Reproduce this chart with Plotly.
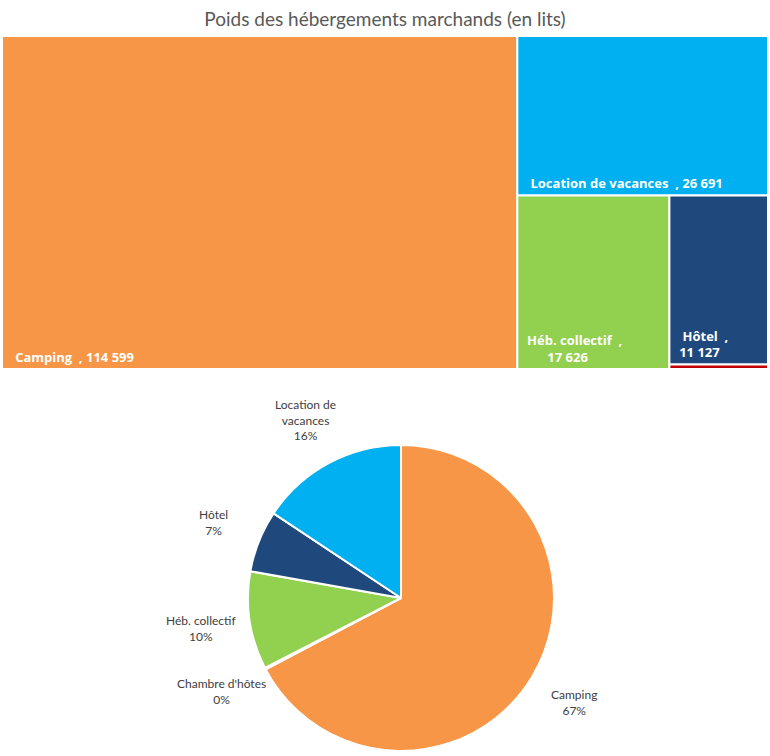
import math
import plotly.graph_objects as go

# --- data ---
categories = ["Camping", "Location de vacances", "Héb. collectif", "Hôtel", "Chambre d'hôtes"]
beds = [114599, 26691, 17626, 11127, 300]
colors = ["#F79646", "#00B0F0", "#92D050", "#1F497D", "#C00000"]

# pie order (clockwise from 12 o'clock)
pie_order = ["Camping", "Chambre d'hôtes", "Héb. collectif", "Hôtel", "Location de vacances"]

NB = "\u00a0"


def fmt(v):
    return f"{v:,}".replace(",", NB)


# treemap labels, some wrapped like in the original
tm_text = []
for c, v in zip(categories, beds):
    if c == "Chambre d'hôtes":
        tm_text.append("")
    elif c == "Héb. collectif":
        tm_text.append(f"<b>{NB*2}{c}{NB*2},<br>{NB*8}{fmt(v)}</b>")
    elif c == "Hôtel":
        tm_text.append(f"<b>{NB*3}{c}{NB*2},<br>{NB*2}{fmt(v)}</b>")
    else:
        tm_text.append(f"<b>{NB*3}{c}{NB*2}, {fmt(v)}</b>")

W, H = 770, 756
fig = go.Figure()

fig.add_trace(go.Treemap(
    labels=categories,
    parents=[""] * len(categories),
    values=beds,
    text=tm_text,
    texttemplate="%{text}",
    textposition="bottom left",
    textfont=dict(family="Open Sans, sans-serif", size=13, color="white"),
    marker=dict(colors=colors, line=dict(color="white", width=2),
                pad=dict(t=0, l=0, r=0, b=0)),
    tiling=dict(packing="squarify", pad=0),
    pathbar=dict(visible=False),
    hoverinfo="label+value",
    sort=True,
    domain=dict(x=[2 / W, 768 / W], y=[1 - 369 / H, 1 - 36 / H]),
))

# --- pie ---
idx = [categories.index(c) for c in pie_order]
pie_vals = [beds[i] for i in idx]
pie_cols = [colors[i] for i in idx]
pie_disp = [c.replace("Location de vacances", "Location de<br>vacances") for c in pie_order]

px0, px1, py0, py1 = 248, 554, 445, 751  # pie box in pixels
fig.add_trace(go.Pie(
    labels=pie_order,
    values=pie_vals,
    textinfo="none",
    marker=dict(colors=pie_cols, line=dict(color="white", width=2)),
    sort=False,
    direction="clockwise",
    rotation=0,
    showlegend=False,
    domain=dict(x=[px0 / W, px1 / W], y=[1 - py1 / H, 1 - py0 / H]),
))

# Excel-style outside labels, placed on the bisector of each slice
cx, cy = (px0 + px1) / 2, (py0 + py1) / 2
label_dist = 202
total = sum(pie_vals)
cum = 0
for name, v in zip(pie_disp, pie_vals):
    mid = (cum + v / 2) / total * 2 * math.pi
    cum += v
    lx = cx + label_dist * math.sin(mid)
    ly = cy - label_dist * math.cos(mid)
    fig.add_annotation(
        x=lx / W, y=1 - ly / H, xref="paper", yref="paper",
        text=f"{name}<br>{round(100 * v / total)}%",
        showarrow=False, xanchor="center", yanchor="middle", align="center",
        font=dict(family="Lato, Open Sans, sans-serif", size=12, color="#404040"),
    )

fig.update_layout(
    width=W, height=H,
    margin=dict(l=0, r=0, t=0, b=0),
    paper_bgcolor="white",
    title=dict(text="Poids des hébergements marchands (en lits)",
               x=0.5, xanchor="center", y=1 - 19 / H, yanchor="middle",
               font=dict(family="Lato, Open Sans, sans-serif", size=19, color="#595959")),
    showlegend=False,
)

fig.write_html("out.html", config={"displayModeBar": False},
               post_script="document.body.style.margin='0';")
